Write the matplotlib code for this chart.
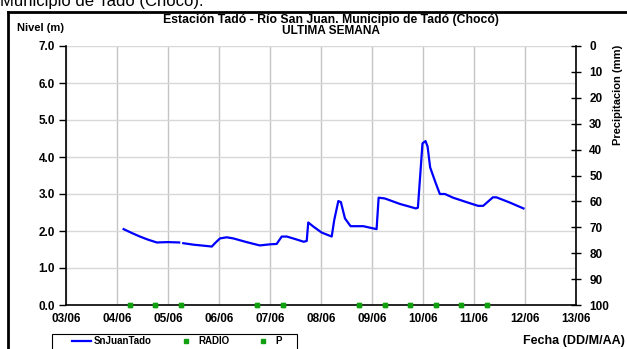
import numpy as np
import matplotlib
matplotlib.use('Agg')
import matplotlib.pyplot as plt
from matplotlib.lines import Line2D
from matplotlib.patches import Rectangle

plt.rcParams['font.family'] = ['Liberation Sans', 'DejaVu Sans']

# nivel del rio (m), dia de junio
dias = [4.13, 4.30, 4.45, 4.60, 4.78, 5.00, 5.22, np.nan, 5.30, 5.50, 5.65,
        5.86, 5.92, 6.02, 6.15, 6.28, 6.54, 6.80, 7.00, 7.13, 7.23, 7.33,
        7.50, 7.66, 7.72, 7.75, 7.85, 8.01, 8.21, 8.26, 8.34, 8.39, 8.47,
        8.58, 8.83, 9.09, 9.13, 9.25, 9.55, 9.68, 9.86, 9.90, 9.99, 10.05,
        10.09, 10.14, 10.24, 10.33, 10.43, 10.59, 10.92, 11.08, 11.18, 11.37,
        11.44, 11.70, 11.97]
nivel = [2.05, 1.94, 1.85, 1.77, 1.69, 1.70, 1.69, np.nan, 1.67, 1.63, 1.61,
         1.58, 1.67, 1.80, 1.83, 1.80, 1.70, 1.61, 1.64, 1.65, 1.85, 1.85,
         1.78, 1.71, 1.73, 2.23, 2.12, 1.96, 1.85, 2.30, 2.81, 2.78, 2.34,
         2.13, 2.13, 2.05, 2.90, 2.88, 2.73, 2.68, 2.61, 2.63, 4.37, 4.43,
         4.28, 3.72, 3.33, 3.00, 3.00, 2.90, 2.75, 2.68, 2.68, 2.91,
         2.91, 2.77, 2.61]

# registros de precipitacion
dias_radio = [4.25, 4.75, 5.25, 6.75, 7.25, 8.75, 9.25, 9.75, 10.25, 10.75, 11.25]
radio = [0] * len(dias_radio)
dias_p = dias_radio
p = [0] * len(dias_p)

fechas = [3, 4, 5, 6, 7, 8, 9, 10, 11, 12, 13]
etiquetas = ["%02d/06" % d for d in fechas]

W, H = 627, 349
fig = plt.figure(figsize=(W / 100., H / 100.), dpi=100)
ax = fig.add_axes([66. / W, 1 - 305. / H, 510. / W, 259. / H])

ln, = ax.plot(dias, nivel, color='#0000ff', lw=1.6, label='SnJuanTado', zorder=3)
r, = ax.plot(dias_radio, radio, 's', color='#10a010', ms=2.2, ls='none',
             label='RADIO', clip_on=False, zorder=4)
pp, = ax.plot(dias_p, p, 's', color='#10a010', ms=2.2, ls='none',
              label='P', clip_on=False, zorder=4)

ax.set_xlim(3, 13)
ax.set_ylim(0, 7)
ax.set_xticks(fechas)
ax.set_xticklabels(etiquetas, fontsize=8.5, fontweight='bold')
ax.set_yticks(np.arange(0, 8))
ax.set_yticklabels(["%.1f" % v for v in range(8)], fontsize=8.5, fontweight='bold')
ax.tick_params(axis='x', length=0, pad=6)
ax.tick_params(axis='y', length=5, width=1, pad=3)
ax.xaxis.grid(True, color='#c4c4c4', lw=1)
ax.yaxis.grid(True, color='#d8d8d8', lw=1)
for s in ['top', 'right']:
    ax.spines[s].set_visible(False)
for s in ['left', 'bottom']:
    ax.spines[s].set_linewidth(1.2)

# eje secundario de precipitacion
ax2 = ax.twinx()
ax2.set_ylim(100, 0)
ax2.set_yticks(np.arange(0, 101, 10))
ax2.set_yticklabels([str(v) for v in range(0, 101, 10)], fontsize=8.5, fontweight='bold')
ax2.tick_params(axis='y', direction='inout', length=7, width=1, pad=6)
for s in ['top', 'left', 'bottom']:
    ax2.spines[s].set_visible(False)
ax2.spines['right'].set_linewidth(1.2)
ax2.set_ylabel('Precipitacion (mm)', fontsize=8, fontweight='bold')
ax2.yaxis.set_label_coords(1.072, 0.81)

fig.text(331. / W, 1 - 19.5 / H, u'Estación Tadó - Río San Juan. Municipio de Tadó (Chocó)',
         ha='center', va='center', fontsize=8.8, fontweight='bold')
fig.text(331. / W, 1 - 30.5 / H, 'ULTIMA SEMANA', ha='center', va='center',
         fontsize=8.6, fontweight='bold')
fig.text(17. / W, 1 - 28. / H, 'Nivel (m)', ha='left', va='center',
         fontsize=8, fontweight='bold')
fig.text(523. / W, 1 - 341. / H, 'Fecha (DD/M/AA)', ha='left', va='center',
         fontsize=9, fontweight='bold')
fig.text(0, 1 - 6. / H, u'Municipio de Tadó (Chocó).', ha='left', va='baseline',
         fontsize=12)

# marco
fig.add_artist(Line2D([8. / W, 1], [1 - 12. / H, 1 - 12. / H], color='black', lw=2))
fig.add_artist(Line2D([8. / W, 8. / W], [0, 1 - 12. / H], color='black', lw=2))

# leyenda con su caja aparte
fig.add_artist(Rectangle((52. / W, -0.05), 245. / W, 0.05 + 15. / H,
                         transform=fig.transFigure, fill=False,
                         edgecolor='black', lw=0.8))
leg = fig.legend([ln, r, pp], ['SnJuanTado', 'RADIO', 'P'], ncol=3,
                 loc='center left', bbox_to_anchor=(72. / W, 1 - 341. / H),
                 borderaxespad=0, borderpad=0, frameon=False,
                 prop={'size': 7, 'weight': 'bold'}, handlelength=2.0,
                 columnspacing=2.5, handletextpad=0.25)

plt.savefig('out.png', dpi=100)
